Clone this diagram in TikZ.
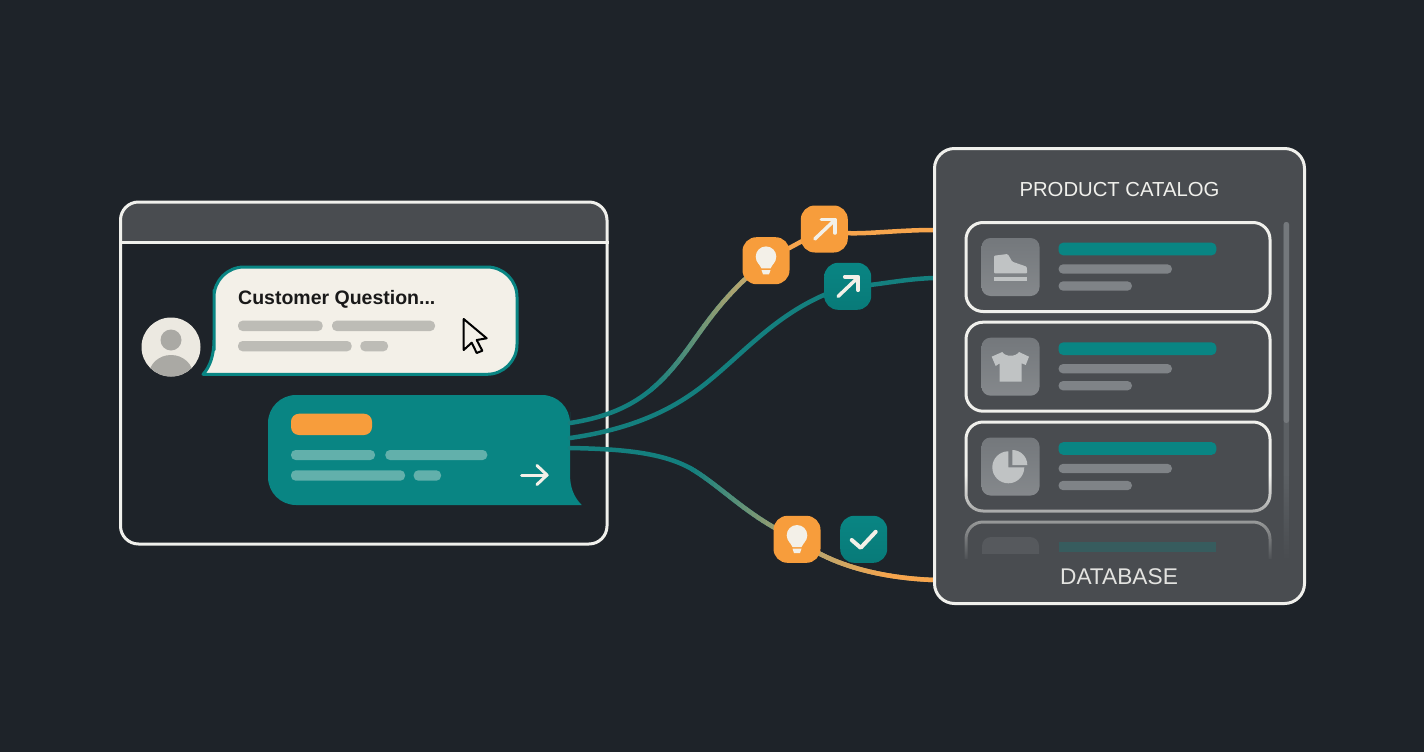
\documentclass[tikz,border=0pt]{standalone}
\usepackage{fontspec}
\setmainfont{Liberation Sans}
\usepackage{xcolor}
\usetikzlibrary{fadings}

\definecolor{bgdark}{HTML}{1E2329}
\definecolor{panelgray}{HTML}{494C50}
\definecolor{edgewhite}{HTML}{F0F0EC}
\definecolor{paper}{HTML}{F3F0E8}
\definecolor{tealmain}{HTML}{098583}
\definecolor{tealwire}{HTML}{147F7E}
\definecolor{orangemain}{HTML}{F79D3C}
\definecolor{oliveend}{HTML}{BBA66E}
\definecolor{lightbar}{HTML}{BDBCB6}
\definecolor{replybar}{HTML}{62B0AB}
\definecolor{graybar}{HTML}{7F8387}
\definecolor{iconbox}{HTML}{74787C}
\definecolor{iconlight}{HTML}{C0C3C4}

\pgfdeclarelayer{front}
\pgfsetlayers{main,front}

\tikzset{
	frame/.style={draw=edgewhite, line width=3pt, rounded corners=18pt, inner sep=0pt},
	panel/.style={draw=edgewhite, fill=panelgray, line width=3pt, rounded corners=20pt, inner sep=0pt},
	card/.style={draw=edgewhite, line width=3pt, rounded corners=17pt, inner sep=0pt, minimum width=304pt, minimum height=89pt},
	tile/.style={rounded corners=14pt, minimum size=47pt, inner sep=0pt},
	orangetile/.style={tile, fill=orangemain},
	tealtile/.style={tile, top color=tealmain, bottom color=tealmain!92!black},
	iconsq/.style={rounded corners=9pt, minimum size=58pt, inner sep=0pt, top color=iconbox, bottom color=iconbox!88!white},
	wire/.style={line width=4.5pt, line cap=round},
	bulbicon/.pic={
		\fill[paper] (0,-4) circle (10.3pt);
		\fill[paper] (-8.5,1) -- (8.5,1) -- (4.5,7.7) -- (-4.5,7.7) -- cycle;
		\fill[paper] (-4.5,9.4) -- (4.5,9.4) -- (3,13.7) -- (-3,13.7) -- cycle;
	},
	arrowicon/.pic={
		\draw[paper, line width=3.5pt, line cap=round, line join=round] (-9.5,10) -- (10.5,-9);
		\draw[paper, line width=3.5pt, line cap=round, line join=round] (-3,-9.5) -- (10.5,-9.5) -- (10.5,4);
	},
	checkicon/.pic={
		\draw[paper, line width=4pt, line cap=round, line join=round] (-12,0.7) -- (-3,8.5) -- (12,-7.5);
	}
}

% text bar: colour, x1, x2, y1, y2
\newcommand{\txtbar}[5]{\fill[#1, rounded corners=4.6pt] (#2,#4) rectangle (#3,#5);}

% wire that turns from one colour to another between two x values
\newcommand{\fadewire}[5]{
	\draw[wire, draw=#3] #5;
	\foreach \i in {0,...,19}{
		\pgfmathsetmacro\mixval{\i/19*100}
		\begin{scope}
			\clip ({#1+(#2-#1)*\i/20},0) rectangle ({#1+(#2-#1)*(\i+1)/20+0.6},752);
			\draw[wire, draw=#4!\mixval!#3] #5;
		\end{scope}
	}
	\begin{scope}
		\clip (#2,0) rectangle (1424,752);
		\draw[wire, draw=#4] #5;
	\end{scope}
}

\begin{document}
\begin{tikzpicture}[x=1pt, y=-1pt]
	
	% Background
	\useasboundingbox (0,0) rectangle (1424,752);
	\fill[bgdark] (0,0) rectangle (1424,752);
	
	\begin{pgfonlayer}{front}
		% Catalog panel
		\node[panel, minimum width=370pt, minimum height=455pt] (catalog) at (1119.5,376) {};
		\node[text=edgewhite, font=\fontsize{20.3}{24}\selectfont] (catalogtitle) at (1119.5,190) {PRODUCT CATALOG};
		
		% Scroll bar
		\fill[iconbox!45!panelgray, rounded corners=2pt] (1283.7,222) rectangle (1289,560);
		\fill[iconbox, rounded corners=2.5pt] (1283.7,222) rectangle (1289,423);
		
		% Product rows
		\node[card] (rowone) at (1118,267) {};
		\node[card] (rowtwo) at (1118,366.7) {};
		\node[card] (rowthree) at (1118,466.5) {};
		\begin{scope}
			\clip (955,515) rectangle (1280,558);
			\node[card] (rowfour) at (1118,566.5) {};
		\end{scope}
		
		% Fade towards the bottom of the list
		\fill[panelgray, path fading=north] (955,475) rectangle (1296,562);
		
		% Faded fourth row
		\begin{scope}
			\clip (955,515) rectangle (1280,553);
			\fill[iconbox!30!panelgray, rounded corners=9pt] (982,537) rectangle (1039,590);
			\fill[tealmain!28!panelgray] (1058.5,541.7) rectangle (1216,552);
		\end{scope}
		
		% Row contents
		\foreach \rowy/\rowname in {0/one,99.7/two,199.5/three}{
			\node[iconsq] (icon\rowname) at (1010.5,267+\rowy) {};
			\txtbar{tealmain}{1058.5}{1216.3}{242.7+\rowy}{255.3+\rowy}
			\txtbar{graybar}{1058.5}{1172}{264.3+\rowy}{273.7+\rowy}
			\txtbar{graybar}{1058.5}{1132}{281.3+\rowy}{290.7+\rowy}
		}
		
		% Shoe icon
		\fill[iconlight, rounded corners=1pt] (994,255.7) -- (1007.7,254) -- (1012.3,261.7) -- (1026.7,266.7) -- (1027.3,273.3) -- (994,273.3) -- cycle;
		\fill[iconlight] (994,277) rectangle (1027.3,281.3);
		
		% Shirt icon
		\fill[iconlight] (991.7,356.7) -- (1002.3,352) .. controls (1005,357) and (1016,357) .. (1019,352) -- (1029,356.7) -- (1025.7,365) -- (1021.7,363.3) -- (1021.7,381.7) -- (999.7,381.7) -- (999.7,363.3) -- (995.7,366) -- cycle;
		
		% Pie icon
		\fill[iconlight] (1008.3,467.3) -- (1008.3,451.3) arc[start angle=90, end angle=360, radius=16pt] -- cycle;
		\fill[iconlight] (1012.3,465) -- (1027.3,465) arc[start angle=0, end angle=90, radius=15pt] -- cycle;
		
		\node[text=edgewhite!92!panelgray, font=\fontsize{22.7}{26}\selectfont] (dblabel) at (1119,577) {DATABASE};
		
		% Connector tiles
		\node[orangetile] (bulbtop) at (766,260.7) {};
		\node[orangetile] (arrowtop) at (824.3,229) {};
		\node[tealtile] (arrowteal) at (847.7,286.3) {};
		\node[orangetile] (bulblow) at (797,539.3) {};
		\node[tealtile] (checktile) at (863.7,539.3) {};
		\pic at (bulbtop.center) {bulbicon};
		\pic at (arrowtop.center) {arrowicon};
		\pic at (arrowteal.center) {arrowicon};
		\pic at (bulblow.center) {bulbicon};
		\pic at (checktile.center) {checkicon};
	\end{pgfonlayer}
	
	% Chat window
	\begin{scope}
		\clip (120,200) rectangle (608,242);
		\fill[panelgray, rounded corners=18pt] (120.5,202) rectangle (607,300);
	\end{scope}
	\node[frame, minimum width=486.5pt, minimum height=342pt] (window) at (363.75,373) {};
	\draw[edgewhite, line width=3pt] (window.west |- 0,242) -- (window.east |- 0,242);
	
	% Avatar
	\node[circle, fill=paper!97!black, minimum size=59pt, inner sep=0pt] (avatar) at (171,347) {};
	\begin{scope}
		\clip (171,347) circle (29.5pt);
		\fill[lightbar!90!black] (171,375) ellipse (22pt and 20pt);
	\end{scope}
	\fill[lightbar!90!black] (171,340) circle (10.5pt);
	
	% Customer bubble
	\draw[draw=tealmain, fill=paper, line width=3pt, line join=round] (203,374.3) [rounded corners=30pt] -- (517,374.3) -- (517,267) -- (214,267) -- (214,320) [rounded corners=0pt] -- (214,340) .. controls (214,355) and (210,367) .. (203,374.3) -- cycle;
	\node[anchor=base west, inner sep=0pt, text=black!90, font=\fontsize{19.5}{24}\selectfont\bfseries] (question) at (238,304) {Customer Question...};
	\txtbar{lightbar}{238}{322.7}{320.7}{331}
	\txtbar{lightbar}{332}{435}{320.7}{331}
	\txtbar{lightbar}{238}{351.7}{341}{351.3}
	\txtbar{lightbar}{360.3}{388}{341}{351.3}
	
	% Cursor
	\draw[black, fill=paper, line width=2pt, line join=round] (463.7,319) -- (463.7,350) -- (471.7,342.7) -- (476.7,353) -- (482.3,350.7) -- (476.7,340) -- (486.7,338.3) -- cycle;
	
	% Reply bubble
	\fill[tealmain] (581.7,505) [rounded corners=28pt] -- (268,505) -- (268,395) -- (570,395) -- (570,440) [rounded corners=0pt] -- (570,474) .. controls (570,488) and (574,497) .. (581.7,505) -- cycle;
	\fill[orangemain, rounded corners=8pt] (291,413.7) rectangle (372,435);
	\txtbar{replybar}{291}{375}{450}{460}
	\txtbar{replybar}{385.3}{487.3}{450}{460}
	\txtbar{replybar}{291}{405}{470.3}{480.7}
	\txtbar{replybar}{413.7}{441}{470.3}{480.7}
	\draw[paper, line width=3pt, line cap=round, line join=round] (521.5,475) -- (547,475);
	\draw[paper, line width=3pt, line cap=round, line join=round] (537,465.5) -- (547,475) -- (537,484.5);
	
	% Wire end points
	\coordinate (outa) at (570,423);
	\coordinate (outb) at (570,438);
	\coordinate (outc) at (570,448);
	\coordinate (cata) at (934,230);
	\coordinate (catb) at (934,278);
	\coordinate (catc) at (934,580);
	
	% Wires from the reply to the catalog
	\fadewire{650}{745}{tealwire}{oliveend}{(outa) .. controls (635,413) and (662,385) .. (692,343) .. controls (712,315) and (728,292) .. (bulbtop.center)}
	\draw[wire, orangemain!90!paper] (bulbtop.center) -- (arrowtop.center);
	\draw[wire, orangemain!90!paper] (arrowtop.center) .. controls (845,238) and (885,230) .. (cata);
	\draw[wire, tealwire] (outb) .. controls (640,428) and (680,405) .. (710,380) .. controls (750,347) and (785,305) .. (arrowteal.center);
	\draw[wire, tealwire] (arrowteal.center) .. controls (870,287) and (900,279) .. (catb);
	\fadewire{690}{785}{tealwire}{oliveend!85!tealwire}{(outc) .. controls (620,449) and (665,452) .. (695,471) .. controls (725,490) and (750,518) .. (bulblow.center)}
	\fadewire{815}{890}{oliveend}{orangemain!90!paper}{(bulblow.center) .. controls (830,565) and (880,578) .. (catc)}
	
\end{tikzpicture}
\end{document}
